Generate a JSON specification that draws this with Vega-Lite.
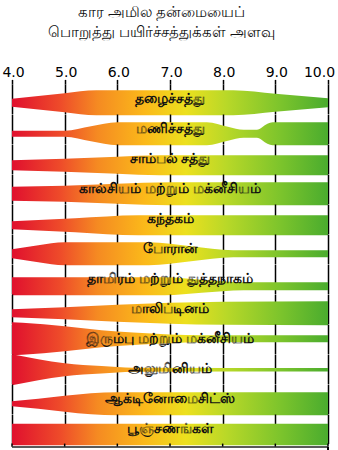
{
  "$schema": "https://vega.github.io/schema/vega-lite/v6.json",
  "padding": {"left": 1, "right": 4, "top": 5, "bottom": 0},
  "background": "white",
  "title": {
    "text": ["கார அமில தன்மையைப்", "பொறுத்து பயிர்ச்சத்துக்கள் அளவு"],
    "anchor": "middle",
    "dx": -7,
    "fontSize": 15,
    "lineHeight": 20,
    "font": "Noto Sans",
    "fontWeight": "normal",
    "color": "#111111",
    "offset": 25
  },
  "data": {
    "values": [
      {"n": "தழைச்சத்து", "ph": 4, "w": 8},
      {"n": "தழைச்சத்து", "ph": 5, "w": 19},
      {"n": "தழைச்சத்து", "ph": 5.6, "w": 25},
      {"n": "தழைச்சத்து", "ph": 8.2, "w": 25},
      {"n": "தழைச்சத்து", "ph": 9, "w": 18},
      {"n": "தழைச்சத்து", "ph": 10, "w": 9},
      {"n": "மணிச்சத்து", "ph": 4, "w": 6},
      {"n": "மணிச்சத்து", "ph": 5, "w": 6},
      {"n": "மணிச்சத்து", "ph": 5.5, "w": 15},
      {"n": "மணிச்சத்து", "ph": 6, "w": 23},
      {"n": "மணிச்சத்து", "ph": 7.7, "w": 23},
      {"n": "மணிச்சத்து", "ph": 8.1, "w": 14},
      {"n": "மணிச்சத்து", "ph": 8.4, "w": 8},
      {"n": "மணிச்சத்து", "ph": 8.65, "w": 8},
      {"n": "மணிச்சத்து", "ph": 8.85, "w": 20},
      {"n": "மணிச்சத்து", "ph": 8.95, "w": 23},
      {"n": "மணிச்சத்து", "ph": 10, "w": 23},
      {"n": "சாம்பல் சத்து", "ph": 4, "w": 10},
      {"n": "சாம்பல் சத்து", "ph": 5, "w": 13},
      {"n": "சாம்பல் சத்து", "ph": 6, "w": 17},
      {"n": "சாம்பல் சத்து", "ph": 6.8, "w": 20},
      {"n": "சாம்பல் சத்து", "ph": 10, "w": 20},
      {"n": "கால்சியம் மற்றும் மக்னீசியம்", "ph": 4, "w": 14},
      {"n": "கால்சியம் மற்றும் மக்னீசியம்", "ph": 5, "w": 16},
      {"n": "கால்சியம் மற்றும் மக்னீசியம்", "ph": 6, "w": 20},
      {"n": "கால்சியம் மற்றும் மக்னீசியம்", "ph": 7, "w": 23},
      {"n": "கால்சியம் மற்றும் மக்னீசியம்", "ph": 10, "w": 23},
      {"n": "கந்தகம்", "ph": 4, "w": 8},
      {"n": "கந்தகம்", "ph": 5.2, "w": 14},
      {"n": "கந்தகம்", "ph": 6.4, "w": 20},
      {"n": "கந்தகம்", "ph": 10, "w": 20},
      {"n": "போரான்", "ph": 4, "w": 9},
      {"n": "போரான்", "ph": 4.5, "w": 17},
      {"n": "போரான்", "ph": 5, "w": 23},
      {"n": "போரான்", "ph": 6.6, "w": 23},
      {"n": "போரான்", "ph": 7.4, "w": 15},
      {"n": "போரான்", "ph": 8.2, "w": 7},
      {"n": "போரான்", "ph": 10, "w": 7},
      {"n": "தாமிரம் மற்றும் துத்தநாகம்", "ph": 4, "w": 18},
      {"n": "தாமிரம் மற்றும் துத்தநாகம்", "ph": 6.9, "w": 18},
      {"n": "தாமிரம் மற்றும் துத்தநாகம்", "ph": 7.6, "w": 13},
      {"n": "தாமிரம் மற்றும் துத்தநாகம்", "ph": 8.4, "w": 8},
      {"n": "தாமிரம் மற்றும் துத்தநாகம்", "ph": 10, "w": 8},
      {"n": "மாலிப்டினம்", "ph": 4, "w": 8},
      {"n": "மாலிப்டினம்", "ph": 5, "w": 12},
      {"n": "மாலிப்டினம்", "ph": 6, "w": 17},
      {"n": "மாலிப்டினம்", "ph": 7, "w": 21},
      {"n": "மாலிப்டினம்", "ph": 8, "w": 23},
      {"n": "மாலிப்டினம்", "ph": 10, "w": 24},
      {"n": "இரும்பு மற்றும் மக்னீசியம்", "ph": 4, "w": 33},
      {"n": "இரும்பு மற்றும் மக்னீசியம்", "ph": 4.2, "w": 32},
      {"n": "இரும்பு மற்றும் மக்னீசியம்", "ph": 5, "w": 25},
      {"n": "இரும்பு மற்றும் மக்னீசியம்", "ph": 5.7, "w": 17},
      {"n": "இரும்பு மற்றும் மக்னீசியம்", "ph": 6.3, "w": 12.5},
      {"n": "இரும்பு மற்றும் மக்னீசியம்", "ph": 7, "w": 8.7},
      {"n": "இரும்பு மற்றும் மக்னீசியம்", "ph": 7.6, "w": 7},
      {"n": "இரும்பு மற்றும் மக்னீசியம்", "ph": 10, "w": 7},
      {"n": "அலுமினியம்", "ph": 4, "w": 31},
      {"n": "அலுமினியம்", "ph": 4.2, "w": 27},
      {"n": "அலுமினியம்", "ph": 4.5, "w": 21},
      {"n": "அலுமினியம்", "ph": 5, "w": 13},
      {"n": "அலுமினியம்", "ph": 5.7, "w": 7.5},
      {"n": "அலுமினியம்", "ph": 6.3, "w": 4},
      {"n": "அலுமினியம்", "ph": 10, "w": 3.5},
      {"n": "ஆக்டினோமைசிட்ஸ்", "ph": 4, "w": 5},
      {"n": "ஆக்டினோமைசிட்ஸ்", "ph": 4.5, "w": 10},
      {"n": "ஆக்டினோமைசிட்ஸ்", "ph": 5, "w": 16},
      {"n": "ஆக்டினோமைசிட்ஸ்", "ph": 5.5, "w": 21},
      {"n": "ஆக்டினோமைசிட்ஸ்", "ph": 6, "w": 23},
      {"n": "ஆக்டினோமைசிட்ஸ்", "ph": 10, "w": 23},
      {"n": "பூஞ்சணங்கள்", "ph": 4, "w": 21.6},
      {"n": "பூஞ்சணங்கள்", "ph": 5, "w": 21.6},
      {"n": "பூஞ்சணங்கள்", "ph": 6, "w": 21.6},
      {"n": "பூஞ்சணங்கள்", "ph": 7, "w": 21.6},
      {"n": "பூஞ்சணங்கள்", "ph": 8, "w": 21.6},
      {"n": "பூஞ்சணங்கள்", "ph": 9, "w": 21.6},
      {"n": "பூஞ்சணங்கள்", "ph": 10, "w": 21.6}
    ]
  },
  "facet": {
    "row": {
      "field": "n",
      "type": "nominal",
      "title": null,
      "header": null,
      "sort": [
        "தழைச்சத்து",
        "மணிச்சத்து",
        "சாம்பல் சத்து",
        "கால்சியம் மற்றும் மக்னீசியம்",
        "கந்தகம்",
        "போரான்",
        "தாமிரம் மற்றும் துத்தநாகம்",
        "மாலிப்டினம்",
        "இரும்பு மற்றும் மக்னீசியம்",
        "அலுமினியம்",
        "ஆக்டினோமைசிட்ஸ்",
        "பூஞ்சணங்கள்"
      ]
    }
  },
  "spacing": 0,
  "bounds": "flush",
  "spec": {
    "width": 316,
    "height": 29.6,
    "layer": [
      {
        "transform": [
          {"stack": "w", "groupby": ["n", "ph"], "offset": "center", "as": ["lo", "hi"]}
        ],
        "mark": {
          "type": "area",
          "interpolate": "monotone",
          "color": {
            "gradient": "linear",
            "x1": 0, "y1": 0, "x2": 1, "y2": 0,
            "stops": [
              {"offset": 0, "color": "#e0102e"},
              {"offset": 0.15, "color": "#ee4a2a"},
              {"offset": 0.27, "color": "#f58a22"},
              {"offset": 0.42, "color": "#fbb91a"},
              {"offset": 0.55, "color": "#ece01e"},
              {"offset": 0.68, "color": "#b8d828"},
              {"offset": 0.85, "color": "#7cc42c"},
              {"offset": 1, "color": "#4aac2e"}
            ]
          }
        },
        "encoding": {
          "x": {
            "field": "ph",
            "type": "quantitative",
            "title": null,
            "scale": {"domain": [4, 10], "nice": false, "zero": false},
            "axis": {
              "orient": "top",
              "values": [4, 5, 6, 7, 8, 9, 10],
              "format": ".1f",
              "title": null,
              "domain": false,
              "grid": true,
              "gridColor": "#000000",
              "gridWidth": 1.5,
              "gridOpacity": 1,
              "ticks": true,
              "tickColor": "#000000",
              "tickWidth": 1.5,
              "tickSize": 4.6,
              "labelPadding": 0,
              "labelFlush": false,
              "labelOverlap": false,
              "labelFont": "DejaVu Sans",
              "labelFontSize": 14,
              "labelColor": "#000000",
              "labelOffset": {"expr": "datum.value == 10 ? -9 : 1"}
            }
          },
          "y": {
            "field": "lo",
            "type": "quantitative",
            "axis": null,
            "scale": {"domain": [1.7, 31.3], "nice": false, "zero": false}
          },
          "y2": {"field": "hi"}
        }
      },
      {
        "transform": [{"filter": "datum.ph == 4"}],
        "mark": {"type": "text", "font": "Noto Sans", "fontSize": 14, "fontWeight": "bold", "color": "#111111", "align": "center", "baseline": "middle"},
        "encoding": {
          "x": {"datum": 7, "type": "quantitative", "title": null},
          "y": {"datum": 16.5, "type": "quantitative", "axis": null},
          "text": {"field": "n"}
        }
      },
      {
        "transform": [{"filter": "datum.n == 'பூஞ்சணங்கள்'"}],
        "mark": {"type": "rule", "color": "#000000", "strokeWidth": 1.5},
        "encoding": {
          "x": {"field": "ph", "type": "quantitative", "title": null},
          "y": {"datum": 1.7, "type": "quantitative", "axis": null},
          "y2": {"datum": -1.5}
        }
      },
      {
        "transform": [{"filter": "datum.n == 'பூஞ்சணங்கள்' && datum.ph == 4"}],
        "mark": {"type": "rule", "color": "#222222", "strokeWidth": 1.5},
        "encoding": {
          "x": {"datum": 4, "type": "quantitative", "title": null},
          "x2": {"datum": 10},
          "y": {"datum": -1.8, "type": "quantitative", "axis": null}
        }
      },
      {
        "transform": [{"filter": "datum.n == 'பூஞ்சணங்கள்' && datum.ph == 4"}],
        "mark": {"type": "rule", "color": "#000000", "strokeWidth": 2},
        "encoding": {
          "x": {"datum": 10, "type": "quantitative", "title": null},
          "y": {"datum": -1.8, "type": "quantitative", "axis": null},
          "y2": {"datum": -8}
        }
      }
    ]
  },
  "config": {
    "view": {"stroke": null},
    "facet": {"spacing": 0}
  }
}
